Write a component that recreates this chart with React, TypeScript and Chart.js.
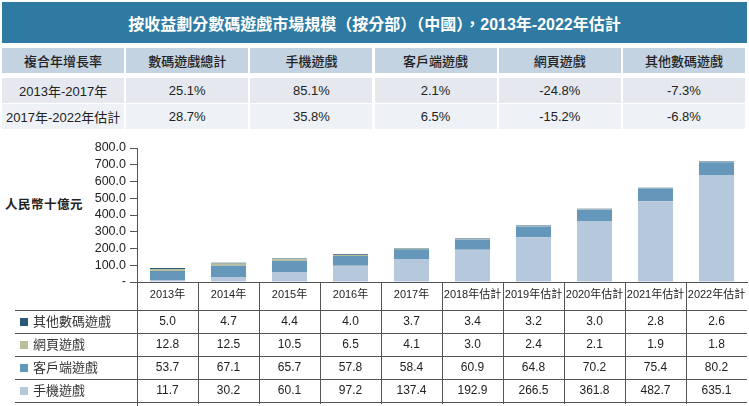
import React, { useEffect, useRef } from "react";
import { Chart, registerables } from "chart.js";

Chart.register(...registerables);

const TITLE = "按收益劃分數碼遊戲市場規模（按分部）（中國），2013年-2022年估計";
const cagrHeaders = ["複合年增長率", "數碼遊戲總計", "手機遊戲", "客戶端遊戲", "網頁遊戲", "其他數碼遊戲"];
const cagrRow1 = ["2013年-2017年", "25.1%", "85.1%", "2.1%", "-24.8%", "-7.3%"];
const cagrRow2 = ["2017年-2022年估計", "28.7%", "35.8%", "6.5%", "-15.2%", "-6.8%"];

const years = ["2013年", "2014年", "2015年", "2016年", "2017年", "2018年估計", "2019年估計", "2020年估計", "2021年估計", "2022年估計"];
const otherGames = [5.0, 4.7, 4.4, 4.0, 3.7, 3.4, 3.2, 3.0, 2.8, 2.6];
const webGames = [12.8, 12.5, 10.5, 6.5, 4.1, 3.0, 2.4, 2.1, 1.9, 1.8];
const clientGames = [53.7, 67.1, 65.7, 57.8, 58.4, 60.9, 64.8, 70.2, 75.4, 80.2];
const mobileGames = [11.7, 30.2, 60.1, 97.2, 137.4, 192.9, 266.5, 361.8, 482.7, 635.1];
const yTicks = [0, 100, 200, 300, 400, 500, 600, 700, 800];

const seriesNames = ["其他數碼遊戲", "網頁遊戲", "客戶端遊戲", "手機遊戲"];
const COLORS = { other: "#2b5878", web: "#b8bd9b", client: "#6597bb", mobile: "#b6c9dc" };

const FONT = '"Liberation Sans", "Noto Sans CJK TC", sans-serif';
const CANVAS_TOP = 130;

const tablePlugin = {
  id: "dataTable",
  afterDraw(chart: any) {
    const { ctx, chartArea } = chart;
    const x = chart.scales.x;
    const step = x.getPixelForValue(1) - x.getPixelForValue(0);
    const P = (y: number) => y - CANVAS_TOP;
    const rowsData = [otherGames, webGames, clientGames, mobileGames];
    const rowColors = [COLORS.other, COLORS.web, COLORS.client, COLORS.mobile];
    const lines = [310, 333, 356, 379, 402].map(P);
    ctx.save();
    ctx.strokeStyle = "#555";
    ctx.lineWidth = 1;
    lines.forEach((ly) => {
      ctx.beginPath();
      ctx.moveTo(15, Math.round(ly) + 0.5);
      ctx.lineTo(chartArea.right, Math.round(ly) + 0.5);
      ctx.stroke();
    });
    for (let i = 0; i < years.length; i++) {
      const lx = Math.round(x.getPixelForValue(i) - step / 2) + 0.5;
      ctx.beginPath();
      ctx.moveTo(lx, chartArea.bottom);
      ctx.lineTo(lx, i === 0 ? P(406) : P(404));
      ctx.stroke();
    }
    ctx.fillStyle = "#222";
    ctx.textAlign = "center";
    ctx.textBaseline = "middle";
    ctx.font = `11px ${FONT}`;
    years.forEach((yr, i) => {
      ctx.fillText(yr, x.getPixelForValue(i), P(295));
    });
    rowsData.forEach((arr, r) => {
      const cy = (lines[r] + lines[r + 1]) / 2 + 0.5;
      ctx.font = `12px ${FONT}`;
      arr.forEach((v, i) => {
        ctx.textAlign = "center";
        ctx.fillStyle = "#222";
        ctx.fillText(v.toFixed(1), x.getPixelForValue(i), cy);
      });
      ctx.fillStyle = rowColors[r];
      ctx.fillRect(20, Math.round(cy - 4), 8, 8);
      ctx.fillStyle = "#333";
      ctx.textAlign = "left";
      ctx.font = `13px ${FONT}`;
      ctx.fillText(seriesNames[r], 33, cy);
    });
    ctx.restore();
  },
};

function ChartCanvas() {
  const ref = useRef<HTMLCanvasElement>(null);
  useEffect(() => {
    document.body.style.margin = "0";
    if (!ref.current) return;
    const chart = new Chart(ref.current, {
      type: "bar",
      data: {
        labels: years,
        datasets: [
          { label: "手機遊戲", data: mobileGames, backgroundColor: COLORS.mobile },
          { label: "客戶端遊戲", data: clientGames, backgroundColor: COLORS.client },
          { label: "網頁遊戲", data: webGames, backgroundColor: COLORS.web },
          { label: "其他數碼遊戲", data: otherGames, backgroundColor: COLORS.other },
        ],
      },
      options: {
        animation: false,
        responsive: false,
        devicePixelRatio: 1,
        layout: { padding: { left: 0, right: 2, top: 18, bottom: 124 } },
        plugins: { legend: { display: false }, tooltip: { enabled: false } },
        datasets: { bar: { categoryPercentage: 1, barPercentage: 0.575, borderWidth: 0 } },
        scales: {
          x: {
            stacked: true,
            offset: true,
            grid: { display: false },
            border: { display: true, color: "#555" },
            ticks: { display: false },
            afterFit: (s: any) => { s.height = 0; },
          },
          y: {
            stacked: true,
            min: 0,
            max: 800,
            afterBuildTicks: (s: any) => { s.ticks = yTicks.map((v) => ({ value: v })); },
            grid: { drawOnChartArea: false, tickLength: 7, color: "#555" },
            border: { display: true, color: "#555" },
            ticks: {
              stepSize: 100,
              autoSkip: false,
              padding: 4,
              color: "#222",
              font: { family: FONT, size: 12.5 },
              callback: (v: any) => (Number(v) === 0 ? "-" : Number(v).toFixed(1)),
            },
            afterFit: (s: any) => { s.width = 137; },
          },
        },
      },
      plugins: [tablePlugin],
    });
    return () => chart.destroy();
  }, []);
  return (
    <canvas
      ref={ref}
      width={749}
      height={276}
      style={{ position: "absolute", left: 0, top: CANVAS_TOP, width: 749, height: 276 }}
    />
  );
}

export default function App() {
  const colW = 745 / 6;
  const cell = (text: string, i: number, top: number, bg: string, bold: boolean) => (
    <div
      key={`${top}-${i}`}
      style={{
        position: "absolute",
        left: 2 + i * colW,
        top,
        width: colW - 2,
        height: 25,
        background: bg,
        display: "flex",
        alignItems: "center",
        justifyContent: "center",
        fontSize: 13,
        fontWeight: bold ? 500 : 400,
        color: "#222",
        fontFamily: FONT,
        whiteSpace: "nowrap",
      }}
    >
      {text}
    </div>
  );
  return (
    <div style={{ position: "relative", width: 749, height: 406, background: "#fff", overflow: "hidden", fontFamily: FONT }}>
      <div
        style={{
          position: "absolute",
          left: 2,
          top: 2,
          width: 745,
          height: 41,
          background: "#2e7aa2",
          color: "#fff",
          fontWeight: 700,
          fontSize: 16,
          display: "flex",
          alignItems: "center",
          justifyContent: "center",
          fontFamily: FONT,
        }}
      >
        {TITLE}
      </div>
      {cagrHeaders.map((t, i) => cell(t, i, 48, "#c4d3e2", true))}
      {cagrRow1.map((t, i) => cell(t, i, 78, "#e5e9ef", false))}
      {cagrRow2.map((t, i) => cell(t, i, 104, "#eef1f5", false))}
      <div
        style={{
          position: "absolute",
          left: 5,
          top: 194,
          fontSize: 12.5,
          fontWeight: 700,
          color: "#222",
          letterSpacing: 0.5,
          fontFamily: FONT,
        }}
      >
        人民幣十億元
      </div>
      <ChartCanvas />
    </div>
  );
}
